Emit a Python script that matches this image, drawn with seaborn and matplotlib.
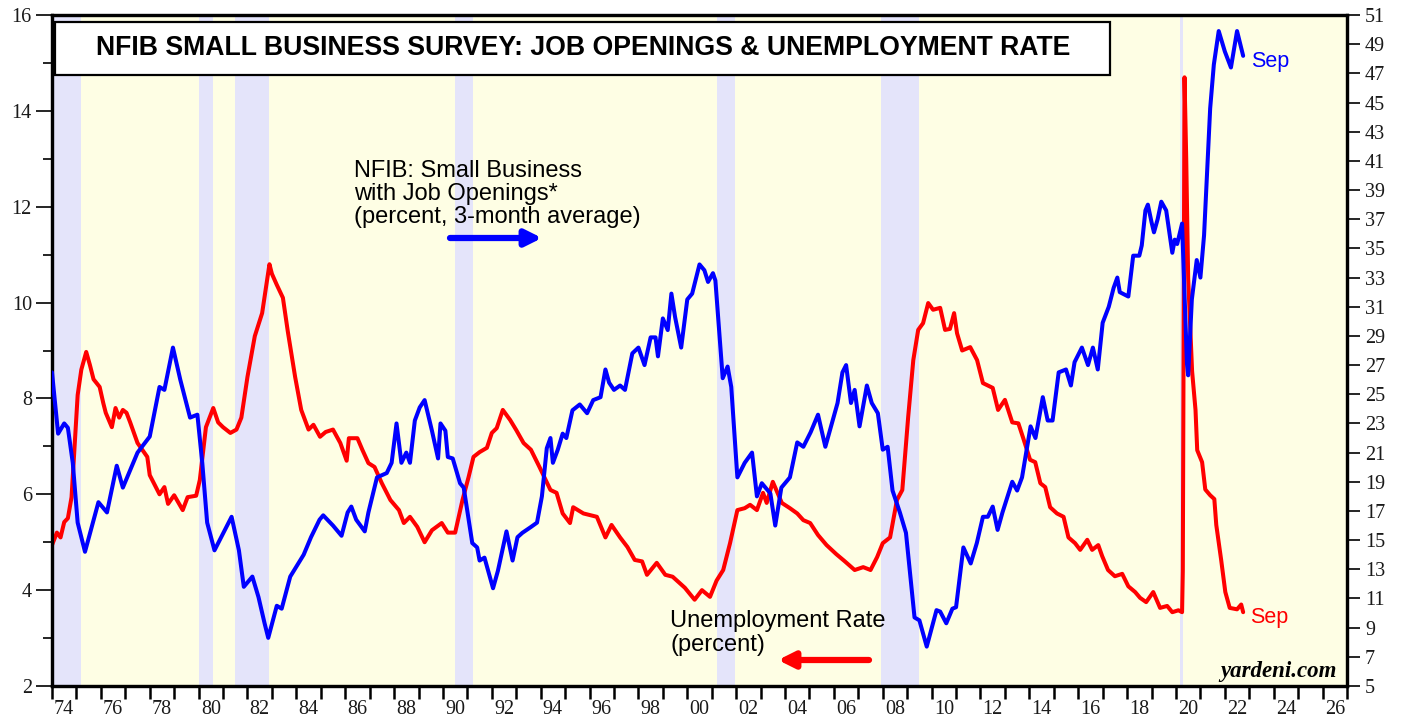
import matplotlib
matplotlib.use("Agg")
import matplotlib.pyplot as plt
import seaborn as sns
from matplotlib.patches import Rectangle
from matplotlib.ticker import MultipleLocator, FixedLocator, FixedFormatter

# recessions (decimal years)
rec_start = [1973.9, 1980.0, 1981.5, 1990.5, 2001.2, 2007.93, 2020.17]
rec_end = [1975.2, 1980.6, 1982.9, 1991.23, 2001.96, 2009.5, 2020.3]

# unemployment rate, percent (left axis)
ur_date = [1974.0, 1974.2, 1974.35, 1974.5, 1974.65, 1974.8, 1974.95, 1975.05, 1975.2, 1975.4,
           1975.55, 1975.7, 1975.95, 1976.1, 1976.2, 1976.45, 1976.6, 1976.75, 1976.9, 1977.05,
           1977.2, 1977.5, 1977.9, 1978.0, 1978.2, 1978.4, 1978.6, 1978.75, 1979.0, 1979.35,
           1979.55, 1979.9, 1980.05, 1980.3, 1980.45, 1980.6, 1980.8, 1981.0, 1981.3, 1981.55,
           1981.75, 1982.0, 1982.3, 1982.6, 1982.9, 1983.0, 1983.2, 1983.45, 1983.65, 1983.95,
           1984.2, 1984.5, 1984.7, 1984.97, 1985.2, 1985.5, 1985.8, 1986.06, 1986.15, 1986.5,
           1986.7, 1986.95, 1987.2, 1987.5, 1987.85, 1988.2, 1988.4, 1988.65, 1988.95, 1989.25,
           1989.55, 1989.95, 1990.2, 1990.5, 1990.8, 1991.05, 1991.25, 1991.5, 1991.8, 1992.0,
           1992.2, 1992.45, 1992.75, 1993.0, 1993.3, 1993.6, 1993.95, 1994.4, 1994.65, 1994.9,
           1995.2, 1995.33, 1995.75, 1996.3, 1996.65, 1996.9, 1997.25, 1997.55, 1997.85, 1998.15,
           1998.35, 1998.75, 1999.1, 1999.4, 1999.9, 2000.3, 2000.6, 2000.93, 2001.2, 2001.47,
           2001.75, 2002.05, 2002.35, 2002.57, 2002.85, 2003.1, 2003.25, 2003.5, 2003.87, 2004.2,
           2004.5, 2004.75, 2005.03, 2005.35, 2005.7, 2006.1, 2006.45, 2006.85, 2007.2, 2007.5,
           2007.77, 2008.0, 2008.3, 2008.58, 2008.8, 2009.04, 2009.25, 2009.45, 2009.65, 2009.86,
           2010.06, 2010.35, 2010.55, 2010.75, 2010.92, 2011.04, 2011.25, 2011.58, 2011.86, 2012.1,
           2012.5, 2012.72, 2013.0, 2013.3, 2013.55, 2013.75, 2014.03, 2014.24, 2014.45, 2014.65,
           2014.85, 2015.13, 2015.4, 2015.6, 2015.87, 2016.08, 2016.37, 2016.57, 2016.82, 2016.98,
           2017.22, 2017.5, 2017.8, 2018.05, 2018.33, 2018.53, 2018.78, 2019.07, 2019.35, 2019.64,
           2019.85, 2020.1, 2020.25, 2020.28, 2020.35, 2020.42, 2020.5, 2020.66, 2020.8, 2020.87,
           2021.07, 2021.2, 2021.4, 2021.57, 2021.65, 2021.85, 2022.02, 2022.2, 2022.5, 2022.67,
           2022.75]
ur_val = [4.94, 5.2, 5.1, 5.42, 5.5, 5.94, 7.2, 8.07, 8.6, 8.97,
          8.7, 8.4, 8.24, 7.9, 7.7, 7.4, 7.8, 7.6, 7.76, 7.7,
          7.5, 7.07, 6.78, 6.4, 6.2, 6.0, 6.15, 5.8, 5.98, 5.67,
          5.94, 5.97, 6.3, 7.4, 7.6, 7.8, 7.5, 7.4, 7.28, 7.35,
          7.6, 8.45, 9.3, 9.78, 10.8, 10.6, 10.37, 10.1, 9.4, 8.45,
          7.76, 7.35, 7.45, 7.2, 7.3, 7.35, 7.07, 6.7, 7.17, 7.17,
          6.93, 6.65, 6.57, 6.23, 5.88, 5.67, 5.4, 5.53, 5.32, 5.0,
          5.25, 5.4, 5.2, 5.2, 5.88, 6.36, 6.78, 6.88, 6.97, 7.28,
          7.38, 7.76, 7.55, 7.34, 7.07, 6.93, 6.57, 6.09, 6.03, 5.6,
          5.4, 5.73, 5.6, 5.53, 5.1, 5.36, 5.1, 4.9, 4.63, 4.6,
          4.32, 4.57, 4.32, 4.28, 4.05, 3.8, 4.0, 3.86, 4.2, 4.42,
          4.98, 5.67, 5.71, 5.78, 5.67, 6.03, 5.82, 6.26, 5.82, 5.71,
          5.6, 5.46, 5.4, 5.15, 4.94, 4.75, 4.6, 4.42, 4.48, 4.42,
          4.69, 4.98, 5.1, 5.88, 6.09, 7.61, 8.8, 9.43, 9.57, 9.99,
          9.85, 9.89, 9.43, 9.45, 9.78, 9.36, 9.0, 9.07, 8.8, 8.32,
          8.22, 7.76, 7.97, 7.5, 7.48, 7.17, 6.72, 6.67, 6.23, 6.15,
          5.73, 5.6, 5.53, 5.1, 4.98, 4.84, 5.05, 4.84, 4.94, 4.71,
          4.42, 4.29, 4.34, 4.08, 3.96, 3.84, 3.75, 3.96, 3.63, 3.67,
          3.54, 3.58, 3.54, 4.4, 14.7, 13.0, 10.5, 8.57, 7.76, 6.92,
          6.67, 6.1, 5.98, 5.9, 5.36, 4.63, 3.96, 3.63, 3.6, 3.7,
          3.54]

# NFIB small businesses with job openings, percent, 3-mo avg (right axis)
jo_date = [1974.0, 1974.25, 1974.5, 1974.65, 1974.85, 1975.05, 1975.35, 1975.9, 1976.25, 1976.65,
           1976.9, 1977.5, 1978.0, 1978.4, 1978.6, 1978.95, 1979.25, 1979.65, 1979.95, 1980.15,
           1980.35, 1980.65, 1981.35, 1981.65, 1981.85, 1982.2, 1982.45, 1982.7, 1982.85, 1983.2,
           1983.4, 1983.75, 1984.3, 1984.6, 1984.95, 1985.1, 1985.5, 1985.85, 1986.1, 1986.25,
           1986.45, 1986.8, 1986.95, 1987.3, 1987.7, 1987.9, 1988.1, 1988.3, 1988.5, 1988.65,
           1988.85, 1989.05, 1989.25, 1989.55, 1989.8, 1989.9, 1990.1, 1990.2, 1990.4, 1990.7,
           1990.85, 1991.2, 1991.4, 1991.5, 1991.7, 1992.05, 1992.25, 1992.6, 1992.85, 1993.05,
           1993.25, 1993.6, 1993.85, 1994.05, 1994.25, 1994.4, 1994.5, 1994.7, 1994.9, 1995.05,
           1995.3, 1995.6, 1995.9, 1996.15, 1996.45, 1996.65, 1996.8, 1997.0, 1997.25, 1997.45,
           1997.75, 1998.0, 1998.25, 1998.5, 1998.7, 1998.8, 1999.0, 1999.2, 1999.35, 1999.5,
           1999.75, 2000.0, 2000.2, 2000.5, 2000.7, 2000.85, 2001.05, 2001.15, 2001.45, 2001.65,
           2001.8, 2002.05, 2002.35, 2002.65, 2002.85, 2003.05, 2003.4, 2003.6, 2003.85, 2004.2,
           2004.5, 2004.75, 2005.05, 2005.35, 2005.65, 2005.85, 2006.15, 2006.35, 2006.5, 2006.7,
           2006.85, 2007.05, 2007.35, 2007.55, 2007.8, 2008.0, 2008.2, 2008.4, 2008.7, 2008.95,
           2009.3, 2009.5, 2009.8, 2010.2, 2010.35, 2010.6, 2010.85, 2011.0, 2011.3, 2011.6,
           2011.85, 2012.1, 2012.3, 2012.5, 2012.7, 2012.9, 2013.3, 2013.5, 2013.7, 2014.05,
           2014.25, 2014.55, 2014.75, 2014.95, 2015.2, 2015.5, 2015.7, 2015.85, 2016.15, 2016.4,
           2016.6, 2016.8, 2017.0, 2017.25, 2017.45, 2017.6, 2017.7, 2018.05, 2018.25, 2018.5,
           2018.6, 2018.75, 2018.85, 2019.0, 2019.1, 2019.25, 2019.4, 2019.6, 2019.85, 2019.95,
           2020.05, 2020.25, 2020.45, 2020.5, 2020.65, 2020.85, 2021.0, 2021.15, 2021.4, 2021.55,
           2021.75, 2022.0, 2022.25, 2022.5, 2022.75]
jo_val = [26.5, 22.3, 23.0, 22.7, 20.3, 16.2, 14.2, 17.6, 16.9, 20.1,
          18.6, 21.0, 22.1, 25.5, 25.3, 28.2, 26.0, 23.4, 23.6, 20.3,
          16.2, 14.3, 16.6, 14.3, 11.8, 12.5, 11.1, 9.3, 8.3, 10.5,
          10.3, 12.5, 14.0, 15.2, 16.4, 16.7, 16.0, 15.3, 16.9, 17.3,
          16.4, 15.6, 16.9, 19.3, 19.6, 20.3, 23.0, 20.3, 21.0, 20.3,
          23.2, 24.1, 24.6, 22.5, 20.6, 23.0, 22.5, 20.7, 20.6, 18.9,
          18.6, 14.8, 14.5, 13.6, 13.8, 11.7, 12.9, 15.6, 13.6, 15.2,
          15.5, 15.9, 16.2, 18.0, 21.3, 22.0, 20.3, 21.2, 22.3, 22.0,
          23.9, 24.3, 23.7, 24.6, 24.8, 26.7, 25.8, 25.3, 25.6, 25.3,
          27.8, 28.2, 27.0, 28.9, 28.9, 27.6, 30.2, 29.4, 31.9, 30.3,
          28.2, 31.5, 31.9, 33.9, 33.5, 32.7, 33.3, 32.8, 26.1, 26.9,
          25.5, 19.3, 20.3, 21.0, 18.0, 18.9, 18.2, 16.0, 18.6, 19.3,
          21.7, 21.4, 22.4, 23.6, 21.4, 22.6, 24.4, 26.5, 27.0, 24.4,
          25.3, 22.8, 25.6, 24.4, 23.7, 21.2, 21.4, 18.4, 16.9, 15.5,
          9.7, 9.5, 7.7, 10.2, 10.1, 9.3, 10.3, 10.4, 14.5, 13.4,
          14.8, 16.6, 16.6, 17.3, 15.7, 16.9, 19.0, 18.4, 19.3, 22.8,
          22.0, 24.8, 23.2, 23.2, 26.5, 26.7, 25.6, 27.2, 28.2, 27.0,
          28.2, 26.7, 29.9, 31.0, 32.3, 33.0, 32.0, 31.7, 34.5, 34.5,
          35.2, 37.6, 38.0, 36.8, 36.1, 37.0, 38.2, 37.6, 34.7, 35.6,
          35.3, 36.7, 27.1, 26.3, 31.5, 34.2, 33.0, 35.9, 44.6, 47.6,
          49.9, 48.5, 47.4, 49.9, 48.2]

year_ticks = list(range(1974, 2028))
year_label_pos = [y + 0.5 for y in range(1974, 2027, 2)]
year_labels = ["%02d" % (y % 100) for y in range(1974, 2027, 2)]

W, H = 1402, 719

sns.set_style("ticks")
plt.rcParams["font.family"] = ["Liberation Sans", "DejaVu Sans"]
plt.rcParams["text.color"] = "black"

fig = plt.figure(figsize=(W / 100, H / 100), dpi=100)
ax = fig.add_axes([52 / W, 33 / H, 1295 / W, 671 / H])
ax.set_facecolor("#FEFEE4")

for s, e in zip(rec_start, rec_end):
    ax.axvspan(s, e, color="#E4E4FA", lw=0, zorder=0)

sns.lineplot(x=ur_date, y=ur_val, ax=ax, color="#FF0000", linewidth=2.9,
             sort=False, estimator=None, zorder=3)
ax.set_xlim(1974, 2027)
ax.set_ylim(2, 16)

ax2 = ax.twinx()
sns.lineplot(x=jo_date, y=jo_val, ax=ax2, color="#0000FF", linewidth=2.9,
             sort=False, estimator=None, zorder=3)
ax2.set_ylim(5, 51)
ax2.set_xlim(1974, 2027)

for a in (ax, ax2):
    a.set_xlabel("")
    a.set_ylabel("")
    for sp in a.spines.values():
        sp.set_linewidth(2.3)
        sp.set_color("black")
        sp.set_visible(True)

# x axis: tick at each year, labels centered mid-year on even years
ax.xaxis.set_major_locator(FixedLocator(year_ticks))
ax.xaxis.set_major_formatter(FixedFormatter([""] * len(year_ticks)))
ax.xaxis.set_minor_locator(FixedLocator(year_label_pos))
ax.xaxis.set_minor_formatter(FixedFormatter(year_labels))
ax.tick_params(axis="x", which="major", direction="out", length=9.5, width=1.8, color="black")
ax.tick_params(axis="x", which="minor", length=0, pad=10)
for lab in ax.xaxis.get_minorticklabels():
    lab.set_fontfamily("Liberation Serif")
    lab.set_fontsize(14.5)
    lab.set_color("#1a1a1a")

# left axis
ax.yaxis.set_major_locator(MultipleLocator(2))
ax.yaxis.set_minor_locator(MultipleLocator(1))
ax.tick_params(axis="y", which="major", direction="out", length=11.5, width=1.2, pad=3, color="black")
ax.tick_params(axis="y", which="minor", direction="out", length=6.5, width=1.2, color="black")
for lab in ax.get_yticklabels():
    lab.set_fontfamily("Liberation Serif")
    lab.set_fontsize(14.5)
    lab.set_color("#1a1a1a")

# right axis
ax2.set_yticks(list(range(5, 52, 2)))
ax2.tick_params(axis="y", which="major", direction="out", length=9.5, width=1.2, pad=3.5, color="black")
for lab in ax2.get_yticklabels():
    lab.set_fontfamily("Liberation Serif")
    lab.set_fontsize(14.5)
    lab.set_color("#1a1a1a")

# title box
ax2.add_patch(Rectangle((3 / 1295, 611 / 671), 1055 / 1295, 53 / 671, transform=ax2.transAxes,
                        facecolor="white", edgecolor="black", lw=1.6, zorder=6))
ax2.text(531 / 1295, 638 / 671, "NFIB SMALL BUSINESS SURVEY: JOB OPENINGS & UNEMPLOYMENT RATE",
         transform=ax2.transAxes, ha="center", va="center", fontsize=19.2, fontweight="bold",
         color="black", zorder=7)


def fx(x):
    return x / W


def fy(y):
    return 1 - y / H


fig.text(fx(354), fy(194), "NFIB: Small Business\nwith Job Openings*\n(percent, 3-month average)",
         ha="left", va="center", fontsize=17, linespacing=1.08, color="black")
fig.text(fx(670), fy(633), "Unemployment Rate\n(percent)",
         ha="left", va="center", fontsize=17, linespacing=1.08, color="black")
ax.annotate("", xy=(fx(542), fy(238)), xytext=(fx(450), fy(238)), xycoords="figure fraction",
            arrowprops=dict(arrowstyle="-|>", color="#0000FF", lw=4.5, mutation_scale=24,
                            shrinkA=0, shrinkB=0))
ax.annotate("", xy=(fx(778), fy(660)), xytext=(fx(869), fy(660)), xycoords="figure fraction",
            arrowprops=dict(arrowstyle="-|>", color="#FF0000", lw=4.5, mutation_scale=24,
                            shrinkA=0, shrinkB=0))

fig.text(fx(1251), fy(61), "Sep", color="#0000FF", fontsize=15.5, ha="left", va="center")
fig.text(fx(1250), fy(617), "Sep", color="#FF0000", fontsize=15.5, ha="left", va="center")
fig.text(fx(1337), fy(672), "yardeni.com", family="Liberation Serif", fontweight="bold",
         style="italic", fontsize=16.5, ha="right", va="center", color="black")

fig.savefig("out.png", dpi=100)
